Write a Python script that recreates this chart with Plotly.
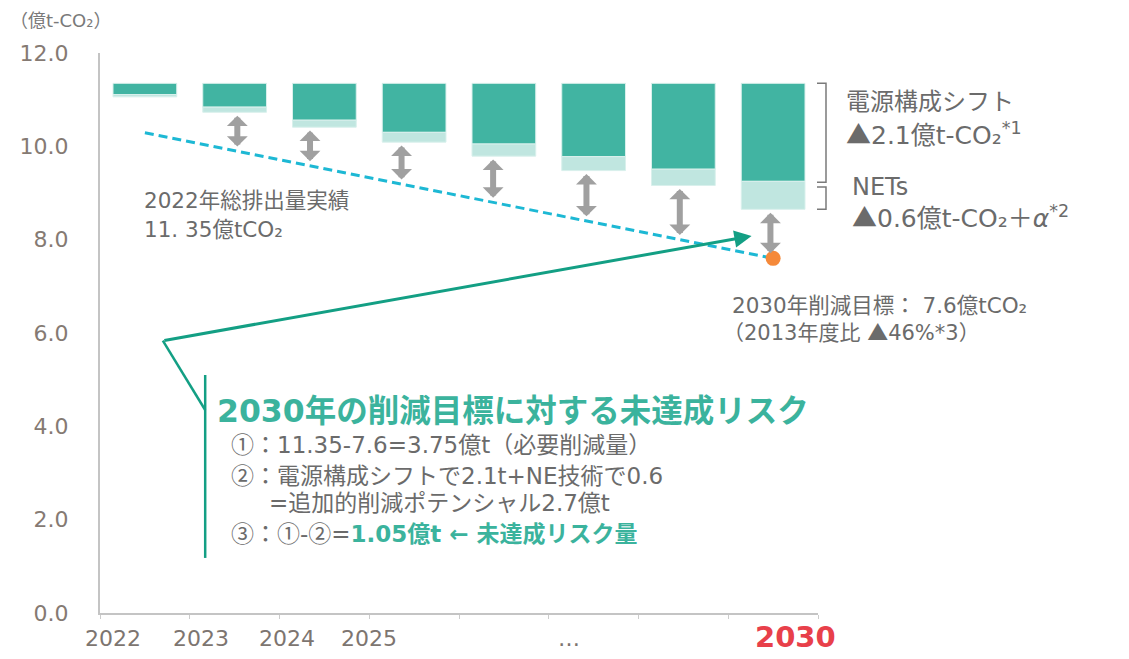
import plotly.graph_objects as go

# ---- data -------------------------------------------------------------
years = ["2022", "2023", "2024", "2025", "2026", "2027", "2028", "2030"]
baseline_2022 = 11.35                                   # 億t-CO2, actual 2022 total
power_shift = [0.24, 0.51, 0.79, 1.05, 1.30, 1.57, 1.84, 2.1]   # 電源構成シフト
nets = [0.05, 0.11, 0.15, 0.21, 0.26, 0.30, 0.35, 0.6]          # NETs
target_path_x = [0, 7]
target_path_y = [10.29, 7.6]                            # dashed path to 2030 target
target_2030 = 7.6
x_tick_text = ["2022", "2023", "2024", "2025", "…", "2030"]

# ---- styling ----------------------------------------------------------
FONT = "DejaVu Sans, Noto Sans CJK JP"
DARK = "#41b4a2"
LIGHT = "#c0e6e0"
GRAY_TXT = "#6b6b6b"
TICK_TXT = "#857a73"
GREEN = "#139f84"
TITLE_GREEN = "#3bb39d"
CYAN = "#1db8d4"
ORANGE = "#f5893a"
ARROW_GRAY = "#a0a0a0"
RED = "#e8404a"

W, H = 1129, 659
L, R, T, B = 100, 311, 53, 46
PW, PH = W - L - R, H - T - B
Y_MAX = 12

xs = list(range(len(years)))
shift_base = [baseline_2022 - s for s in power_shift]
nets_base = [baseline_2022 - s - n for s, n in zip(power_shift, nets)]


def px(x, y):
    """pixel position on the page -> paper coordinates"""
    return dict(x=(x - L) / PW, y=(H - B - y) / PH, xref="paper", yref="paper")


def cjk(s):
    """render symbols with the full-width CJK glyphs"""
    return "<span style='font-family:Noto Sans CJK JP'>%s</span>" % s


fig = go.Figure()

fig.add_trace(go.Bar(
    x=xs, y=power_shift, base=shift_base, width=0.71,
    marker=dict(color=DARK, line=dict(color="#d9f0ec", width=1)),
    hoverinfo="skip", showlegend=False,
))
fig.add_trace(go.Bar(
    x=xs, y=nets, base=nets_base, width=0.71,
    marker=dict(color=LIGHT, line=dict(color="#d9f0ec", width=1)),
    hoverinfo="skip", showlegend=False,
))
fig.add_trace(go.Scatter(
    x=target_path_x, y=target_path_y, mode="lines",
    line=dict(color=CYAN, width=3, dash="9px,5px"),
    hoverinfo="skip", showlegend=False,
))
fig.add_trace(go.Scatter(
    x=[target_path_x[-1]], y=[target_2030], mode="markers",
    marker=dict(color=ORANGE, size=15),
    hoverinfo="skip", showlegend=False,
))

annotations = []

# gap arrows between each year's reduced emissions and the target path
slope = (target_path_y[1] - target_path_y[0]) / (target_path_x[1] - target_path_x[0])
nudge = [0, 0.03, -0.16, -0.14, -0.12, -0.08, -0.04, -0.03]
for i in range(1, len(years)):
    ax = xs[i] + nudge[i]
    top = nets_base[i] - 0.04
    bottom = target_path_y[0] + slope * (ax - target_path_x[0]) + 0.1
    annotations.append(dict(
        x=ax, y=bottom, ax=ax, ay=top, xref="x", yref="y", axref="x", ayref="y",
        text="", showarrow=True, arrowhead=1, startarrowhead=1,
        arrowside="end+start", arrowwidth=6, arrowsize=0.58, startarrowsize=0.58,
        arrowcolor=ARROW_GRAY,
    ))

# callout arrow from the risk box to the 2030 gap
annotations.append(dict(
    x=6.76, y=8.08, ax=0.2, ay=5.835, xref="x", yref="y", axref="x", ayref="y",
    text="", showarrow=True, arrowhead=2, arrowwidth=3, arrowsize=1.15,
    arrowcolor=GREEN,
))


def txt(x, y, text, size, color=GRAY_TXT, xanchor="left"):
    a = px(x, y)
    a.update(text=text, showarrow=False, xanchor=xanchor, yanchor="middle",
             borderpad=0, font=dict(family=FONT, size=size, color=color))
    annotations.append(a)


tri = cjk("▲")
txt(9, 21, "（億t-CO₂）", 18, "#7a7a7a")
txt(143, 201, "2022年総排出量実績", 21.5)
txt(143, 229, "11. 35億tCO₂", 21.5)

txt(845, 102, "電源構成シフト", 24)
txt(845, 133, tri + "2.1億t-CO₂<sup>*1</sup>", 25)
txt(851, 187, "NETs", 24)
txt(851, 216, tri + "0.6億t-CO₂＋<i>α</i><sup>*2</sup>", 25)

txt(731, 305, "2030年削減目標： 7.6億tCO₂", 21.5)
txt(722, 331, "（2013年度比 " + tri + "46%*3）", 21)

txt(216, 411, "<b>2030年の削減目標に対する未達成リスク</b>", 31.5, TITLE_GREEN)
txt(230, 443, cjk("①") + "：11.35-7.6=3.75億t（必要削減量）", 23)
txt(230, 474, cjk("②") + "：電源構成シフトで2.1t+NE技術で0.6", 23)
txt(268, 503, "=追加的削減ポテンシャル2.7億t", 23)
txt(230, 532, cjk("③") + "：" + cjk("①") + "-" + cjk("②")
    + "=<span style='color:%s'><b>1.05億t ← 未達成リスク量</b></span>" % TITLE_GREEN, 23)

# category labels under the axis
label_px = [113, 201, 287, 369, 569, 795]
for lbl, lx in zip(x_tick_text, label_px):
    if lbl == "2030":
        txt(lx, 637, "<b>%s</b>" % lbl, 29, RED, xanchor="center")
    else:
        txt(lx, 638, lbl, 22, "#7d7570", xanchor="center")

# brackets beside the 2030 bar, and the callout frame
shapes = []
bx0, bx1 = (817 - L) / PW, (826 - L) / PW
for y_top, y_bot in [(baseline_2022, shift_base[-1] - 0.02), (shift_base[-1] - 0.12, nets_base[-1])]:
    t, b = y_top / Y_MAX, y_bot / Y_MAX
    shapes.append(dict(
        type="path", xref="paper", yref="paper",
        path="M %f,%f L %f,%f L %f,%f L %f,%f" % (bx0, t, bx1, t, bx1, b, bx0, b),
        line=dict(color="#7a7a7a", width=1.5),
    ))
shapes.append(dict(type="line", xref="x", yref="y", x0=0.672, y0=1.18, x1=0.672, y1=5.10,
                   line=dict(color=GREEN, width=2.5)))
shapes.append(dict(type="line", xref="x", yref="y", x0=0.672, y0=4.35, x1=0.2, y1=5.835,
                   line=dict(color=GREEN, width=2.5)))

fig.update_layout(
    width=W, height=H,
    margin=dict(l=L, r=R, t=T, b=B),
    paper_bgcolor="white", plot_bgcolor="white",
    barmode="overlay",
    font=dict(family=FONT, color=GRAY_TXT),
    annotations=annotations,
    shapes=shapes,
    xaxis=dict(
        range=[-0.5, 7.5], showgrid=False, zeroline=False,
        showline=True, linecolor="#c4c4c4", linewidth=2,
        tickvals=[i - 0.5 for i in range(len(years) + 1)],
        ticks="outside", ticklen=4, tickcolor="#cccccc", tickwidth=1,
        showticklabels=False,
    ),
    yaxis=dict(
        range=[0, Y_MAX], showgrid=False, zeroline=False,
        showline=True, linecolor="#c4c4c4", linewidth=2,
        tickvals=[0, 2, 4, 6, 8, 10, 12],
        ticktext=["0.0", "2.0", "4.0", "6.0", "8.0", "10.0", "12.0"],
        ticks="", ticklabelstandoff=25,
        tickfont=dict(family=FONT, size=22, color=TICK_TXT),
    ),
)

fig.write_html("out.html")
